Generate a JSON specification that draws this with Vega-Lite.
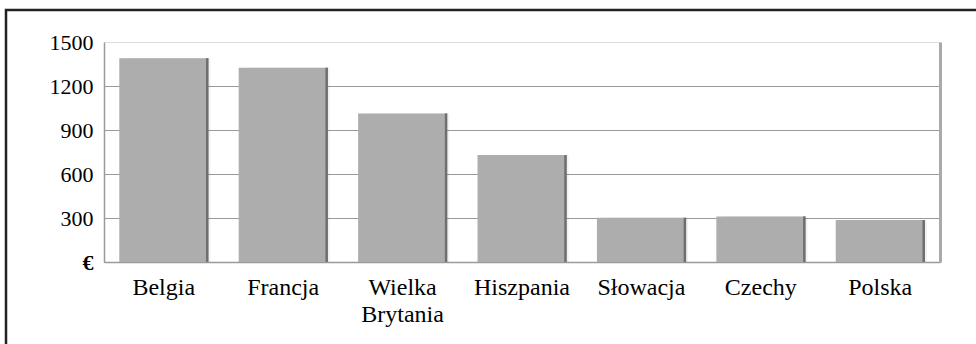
{
  "$schema": "https://vega.github.io/schema/vega-lite/v6.json",
  "width": 836,
  "height": 220,
  "autosize": {"type": "none"},
  "padding": {"left": 104, "top": 42, "right": 36, "bottom": 82},
  "background": "white",
  "config": {
    "view": {"stroke": null},
    "font": "Liberation Serif, Times New Roman, serif"
  },
  "data": {
    "values": [
      {"kraj": "Belgia", "wartosc": 1390},
      {"kraj": "Francja", "wartosc": 1325},
      {"kraj": "Wielka Brytania", "wartosc": 1013},
      {"kraj": "Hiszpania", "wartosc": 729},
      {"kraj": "Słowacja", "wartosc": 302},
      {"kraj": "Czechy", "wartosc": 311},
      {"kraj": "Polska", "wartosc": 286}
    ]
  },
  "encoding": {
    "x": {
      "field": "kraj",
      "type": "nominal",
      "sort": null,
      "scale": {"paddingInner": 0.255, "paddingOuter": 0.128},
      "axis": {
        "title": null,
        "labelAngle": 0,
        "ticks": false,
        "domainColor": "#9a9a9a",
        "domainWidth": 1.5,
        "labelPadding": 13,
        "labelFont": "Liberation Serif, Times New Roman, serif",
        "labelFontSize": 24,
        "labelColor": "#000000",
        "labelLineHeight": 27,
        "labelExpr": "datum.value == 'Wielka Brytania' ? ['Wielka', 'Brytania'] : datum.label"
      }
    }
  },
  "layer": [
    {
      "mark": {"type": "bar", "color": "#000000", "opacity": 0.05, "width": {"band": 0.96}, "xOffset": 4},
      "encoding": {
        "y": {
          "field": "wartosc",
          "type": "quantitative",
          "scale": {"domain": [0, 1500], "nice": false},
          "axis": {
            "values": [0, 300, 600, 900, 1200, 1500],
            "title": null,
            "grid": true,
            "gridColor": {"condition": {"test": "datum.value == 1500", "value": "#dddddd"}, "value": "#9a9a9a"},
            "gridWidth": 1.2,
            "domainColor": "#9a9a9a",
            "domainWidth": 1.5,
            "ticks": false,
            "labelPadding": 11,
            "labelFont": "Liberation Serif, Times New Roman, serif",
            "labelFontSize": 22,
            "labelColor": "#000000",
            "labelFontWeight": {"condition": {"test": "datum.value == 0", "value": "bold"}, "value": "normal"},
            "labelExpr": "datum.value == 0 ? '€' : datum.label",
            "format": "d"
          }
        }
      }
    },
    {
      "mark": {"type": "bar", "color": "#000000", "opacity": 0.06, "width": {"band": 0.84}, "xOffset": 2},
      "encoding": {
        "y": {"field": "wartosc", "type": "quantitative", "axis": null}
      }
    },
    {
      "mark": {"type": "bar", "color": "#adadad"},
      "encoding": {
        "y": {"field": "wartosc", "type": "quantitative", "axis": null}
      }
    },
    {
      "mark": {"type": "bar", "color": "#6f6f6f", "width": 2.5, "xOffset": 43.5},
      "encoding": {
        "y": {
          "field": "wartosc",
          "type": "quantitative",
          "axis": {
            "orient": "right",
            "title": null,
            "labels": false,
            "ticks": false,
            "grid": false,
            "domainColor": "#aaaaaa",
            "domainWidth": 3
          }
        }
      }
    },
    {
      "data": {"values": [{"ramka": 1}]},
      "mark": {"type": "rect", "fill": null, "stroke": "#222222", "strokeWidth": 2.5},
      "encoding": {
        "x": {"value": -98},
        "x2": {"value": 900},
        "y": {"value": -32},
        "y2": {"value": 400}
      }
    }
  ],
  "resolve": {"axis": {"y": "independent"}}
}
